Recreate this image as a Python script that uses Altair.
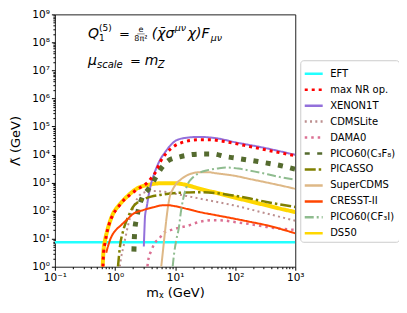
import altair as alt
import pandas as pd

# ---------------- data (log10 readings) ----------------
names = ["EFT", "max NR op.", "XENON1T", "CDMSLite", "DAMA0", "PICO60(C₃F₈)",
         "PICASSO", "SuperCDMS", "CRESST-II", "PICO60(CF₃I)", "DS50"]
colors = ["#22ffff", "#ff0000", "#9370db", "#bc8f8f", "#db7093", "#556b2f",
          "#808000", "#deb887", "#ff4500", "#8fbc8f", "#ffd700"]
dashes = [[1, 0], [3, 4], [1, 0], [2, 3.3], [2.5, 4], [5, 7.5],
          [11, 3, 2.5, 3], [1, 0], [1, 0], [9, 3, 2, 3], [1, 0]]
widths = [2.5, 3, 2, 2, 2.5, 5, 2.5, 2, 2, 2, 4]

eft_lx = [-1, 3]
eft_ly = [0.87, 0.87]

maxnr_lx = [-0.2, -0.19, -0.165, -0.14, -0.1, -0.03, 0.055, 0.14, 0.25, 0.36, 0.45, 0.53,
            0.6, 0.69, 0.75, 0.86, 0.97, 1.1, 1.25, 1.41, 1.58, 1.86, 2.24, 2.57, 3.0]
maxnr_ly = [0, 0.5, 0.85, 1.15, 1.5, 1.87, 2.13, 2.36, 2.56, 2.74, 2.86, 2.98,
            3.15, 3.43, 3.72, 4.06, 4.28, 4.42, 4.5, 4.53, 4.53, 4.45, 4.29, 4.14, 3.96]

xenon_lx = [0.48, 0.49, 0.5, 0.53, 0.56, 0.6, 0.65, 0.7, 0.76, 0.83, 0.9, 0.97, 1.13,
            1.41, 1.69, 2.02, 2.46, 3.0]
xenon_ly = [0.72, 1.3, 1.8, 2.15, 2.55, 2.95, 3.3, 3.58, 3.85, 4.07, 4.27, 4.43, 4.58,
            4.63, 4.58, 4.43, 4.25, 3.99]

cdms_lx = [0.08, 0.1, 0.14, 0.18, 0.22, 0.28, 0.34, 0.41, 0.5, 0.6, 0.86, 1.1, 1.41,
           1.97, 2.52, 3.0]
cdms_ly = [0, 0.3, 0.7, 1.1, 1.5, 1.95, 2.3, 2.55, 2.66, 2.7, 2.66, 2.56, 2.43,
           2.19, 1.9, 1.64]

dama_lx = [0.54, 0.55, 0.61, 0.66, 0.74, 0.8, 0.885, 0.97, 1.08, 1.19, 1.41, 1.63, 1.8,
           1.97, 2.25, 2.52, 3.0]
dama_ly = [0, 0.19, 0.6, 0.84, 1.01, 1.19, 1.28, 1.33, 1.4, 1.45, 1.6, 1.66, 1.65,
           1.6, 1.52, 1.42, 1.31]

pico_lx = [0.315, 0.32, 0.33, 0.36, 0.4, 0.45, 0.55, 0.64, 0.75, 0.885, 1.08, 1.44, 1.63,
           1.83, 2.02, 2.38, 2.77, 3.0]
pico_ly = [0.54, 0.9, 1.31, 1.72, 2.13, 2.45, 2.75, 3.05, 3.45, 3.78, 3.92, 4.02, 4.02,
           3.93, 3.87, 3.75, 3.6, 3.48]

picasso_lx = [0.05, 0.083, 0.14, 0.22, 0.3, 0.38, 0.47, 0.6, 0.75, 1.02, 1.41, 1.7, 1.97,
              2.25, 2.52, 2.75, 3.0]
picasso_ly = [0, 0.72, 1.31, 1.78, 2.13, 2.3, 2.4, 2.5, 2.56, 2.63, 2.66, 2.62, 2.54,
              2.43, 2.31, 2.22, 2.13]

supercdms_lx = [0.77, 0.8, 0.83, 0.86, 0.91, 0.96, 1.02, 1.1, 1.19, 1.41, 1.55, 1.69, 2.0,
                2.24, 2.6, 3.0]
supercdms_ly = [0, 0.6, 1.2, 1.78, 2.48, 2.75, 2.96, 3.12, 3.25, 3.37, 3.37, 3.33, 3.24,
                3.13, 2.97, 2.78]

cresst_lx = [-0.145, -0.12, -0.083, -0.04, 0.0, 0.11, 0.2, 0.3, 0.47, 0.64, 0.8, 0.9, 0.97,
             1.2, 1.41, 1.7, 1.97, 2.25, 2.52, 2.75, 3.0]
cresst_ly = [0.5, 0.7, 0.95, 1.15, 1.27, 1.5, 1.68, 1.88, 2.02, 2.12, 2.19, 2.19, 2.17,
             2.06, 1.95, 1.83, 1.72, 1.6, 1.48, 1.35, 1.19]

picocf_lx = [0.96, 0.98, 1.02, 1.06, 1.1, 1.13, 1.19, 1.3, 1.41, 1.52, 1.7, 1.86, 2.05,
             2.24, 2.45, 2.63, 3.0]
picocf_ly = [0, 0.4, 0.95, 1.35, 2.0, 2.37, 2.84, 3.19, 3.35, 3.43, 3.5, 3.54, 3.5,
             3.43, 3.34, 3.25, 3.1]

ds50_lx = [-0.205, -0.19, -0.165, -0.14, -0.1, -0.03, 0.05, 0.14, 0.25, 0.36, 0.47, 0.58,
           0.7, 0.8, 0.95, 1.08, 1.25, 1.41, 1.7, 1.97, 2.25, 2.52, 2.75, 3.0]
ds50_ly = [0, 0.6, 0.95, 1.19, 1.5, 1.9, 2.15, 2.37, 2.6, 2.78, 2.88, 2.93,
           2.97, 2.98, 2.98, 2.96, 2.88, 2.78, 2.63, 2.48, 2.33, 2.19, 2.07, 1.95]

# drawing order (first = bottom)
curves = [
    ("EFT", eft_lx, eft_ly),
    ("DS50", ds50_lx, ds50_ly),
    ("XENON1T", xenon_lx, xenon_ly),
    ("CDMSLite", cdms_lx, cdms_ly),
    ("DAMA0", dama_lx, dama_ly),
    ("PICO60(C₃F₈)", pico_lx, pico_ly),
    ("PICASSO", picasso_lx, picasso_ly),
    ("SuperCDMS", supercdms_lx, supercdms_ly),
    ("CRESST-II", cresst_lx, cresst_ly),
    ("PICO60(CF₃I)", picocf_lx, picocf_ly),
    ("max NR op.", maxnr_lx, maxnr_ly),
]

width_of = dict(zip(names, widths))
rows = []
for name, lx, ly in curves:
    for a, b in zip(lx, ly):
        rows.append({"series": name, "x": 10 ** a, "y": 10 ** b, "w": width_of[name]})
df = pd.DataFrame(rows)

x_major = [0.1, 1, 10, 100, 1000]
y_major = [10 ** e for e in range(0, 10)]
x_minor = [k * 10 ** e for e in range(-1, 3) for k in range(2, 10)]
y_minor = [k * 10 ** e for e in range(0, 9) for k in range(2, 10)]

# annotation anchor (data coords)
note_x = [0.356, 0.356]
note_y = [1.46e8, 1.6e7]

# ---------------- helpers ----------------
SUP = {"-": "⁻", "0": "⁰", "1": "¹", "2": "²", "3": "³", "4": "⁴",
       "5": "⁵", "6": "⁶", "7": "⁷", "8": "⁸", "9": "⁹"}


def pow_expr(exps):
    e = "round(log(datum.value)/LN10)"
    out = "''"
    for k in reversed(exps):
        lab = "10" + "".join(SUP[c] for c in str(k))
        out = f"{e} == {k} ? '{lab}' : ({out})"
    return out


FONT = "DejaVu Sans"
xscale = alt.Scale(type="log", domain=[0.1, 1000], nice=False)
yscale = alt.Scale(type="log", domain=[1, 1e9], nice=False)

leg = alt.Legend(
    title=None, orient="none", legendX=246, legendY=46,
    symbolType="stroke", symbolSize=324, symbolStrokeWidth=2.5,
    labelFont=FONT, labelFontSize=10, labelColor="#000",
    rowPadding=-4.5, labelOffset=6, padding=3,
    fillColor="white", strokeColor="#cccccc", cornerRadius=3,
)

lines = alt.Chart(df).mark_line(interpolate="monotone", clip=True).encode(
    x=alt.X("x:Q", scale=xscale,
            axis=alt.Axis(values=x_major, labelExpr=pow_expr([-1, 0, 1, 2, 3]),
                          title="mᵪ  (GeV)", titleFont=FONT, titleFontSize=13,
                          titleFontWeight="normal", titleColor="#000",
                          labelFont=FONT, labelFontSize=10.5, labelColor="#000",
                          tickSize=3.5, tickColor="#000", domain=False, grid=False,
                          labelPadding=2, titlePadding=4, labelFlush=False)),
    y=alt.Y("y:Q", scale=yscale,
            axis=alt.Axis(values=y_major, labelExpr=pow_expr(list(range(0, 10))),
                          title="Λ̃  (GeV)", titleFont=FONT, titleFontSize=13,
                          titleFontWeight="normal", titleColor="#000",
                          labelFont=FONT, labelFontSize=10.5, labelColor="#000",
                          tickSize=3.5, tickColor="#000", domain=False, grid=False,
                          labelPadding=2, titlePadding=9, labelFlush=False)),
    color=alt.Color("series:N", scale=alt.Scale(domain=names, range=colors), legend=leg),
    strokeDash=alt.StrokeDash("series:N", scale=alt.Scale(domain=names, range=dashes), legend=leg),
    strokeWidth=alt.StrokeWidth("w:Q", scale=None, legend=None),
)

note_df = pd.DataFrame({"x": note_x, "y": note_y, "line": [1, 2]})

# (text, line, dx, dy, size, italic, align)
pieces = [
    ("Q", 1, 0, 0, 14, True, "left"),
    ("(5)", 1, 11, -7, 9, False, "left"),
    ("1", 1, 11, 3, 9, False, "left"),
    ("=", 1, 31, 0, 13, False, "left"),
    ("e", 1, 53, -5.5, 8, False, "center"),
    ("──", 1, 53, -1.5, 6, False, "center"),
    ("8π²", 1, 53, 3, 8, False, "center"),
    ("(χ̄σ", 1, 64, 0, 14, True, "left"),
    ("μν", 1, 87, -7, 9.5, True, "left"),
    ("χ)F", 1, 100, 0, 14, True, "left"),
    ("μν", 1, 123, 3, 9.5, True, "left"),
    ("μ", 2, 0, 0, 14, True, "left"),
    ("scale", 2, 9, 3, 10, True, "left"),
    ("=", 2, 42, 0, 13, False, "left"),
    ("m", 2, 57, 0, 14, True, "left"),
    ("Z", 2, 70, 3, 10, True, "left"),
]

texts = []
for t, ln, dx, dy, sz, it, al in pieces:
    kw = dict(text=t, dx=dx, dy=dy, fontSize=sz, font=FONT, align=al,
              baseline="alphabetic", color="#000")
    if it:
        kw["fontStyle"] = "italic"
    texts.append(
        alt.Chart(note_df).transform_filter(alt.datum.line == ln).mark_text(**kw).encode(
            x=alt.X("x:Q", scale=xscale),
            y=alt.Y("y:Q", scale=yscale),
        )
    )

main = alt.layer(lines, *texts)

minor = alt.Chart(df).transform_filter(alt.datum.series == "EFT").mark_point(opacity=0).encode(
    x=alt.X("x:Q", scale=xscale,
            axis=alt.Axis(orient="bottom", values=x_minor, labels=False, title=None,
                          tickSize=2, tickColor="#000", domain=False, grid=False)),
    y=alt.Y("y:Q", scale=yscale,
            axis=alt.Axis(orient="left", values=y_minor, labels=False, title=None,
                          tickSize=2, tickColor="#000", domain=False, grid=False)),
)

chart = alt.layer(main, minor).resolve_scale(x="independent", y="independent").properties(
    width=241, height=253,
    autosize=alt.AutoSizeParams(type="none"),
    padding={"left": 47, "top": 6, "right": 104, "bottom": 38},
).configure_view(stroke="#222", strokeWidth=1)

chart.save("out.html", embed_options={"renderer": "svg", "actions": False})
